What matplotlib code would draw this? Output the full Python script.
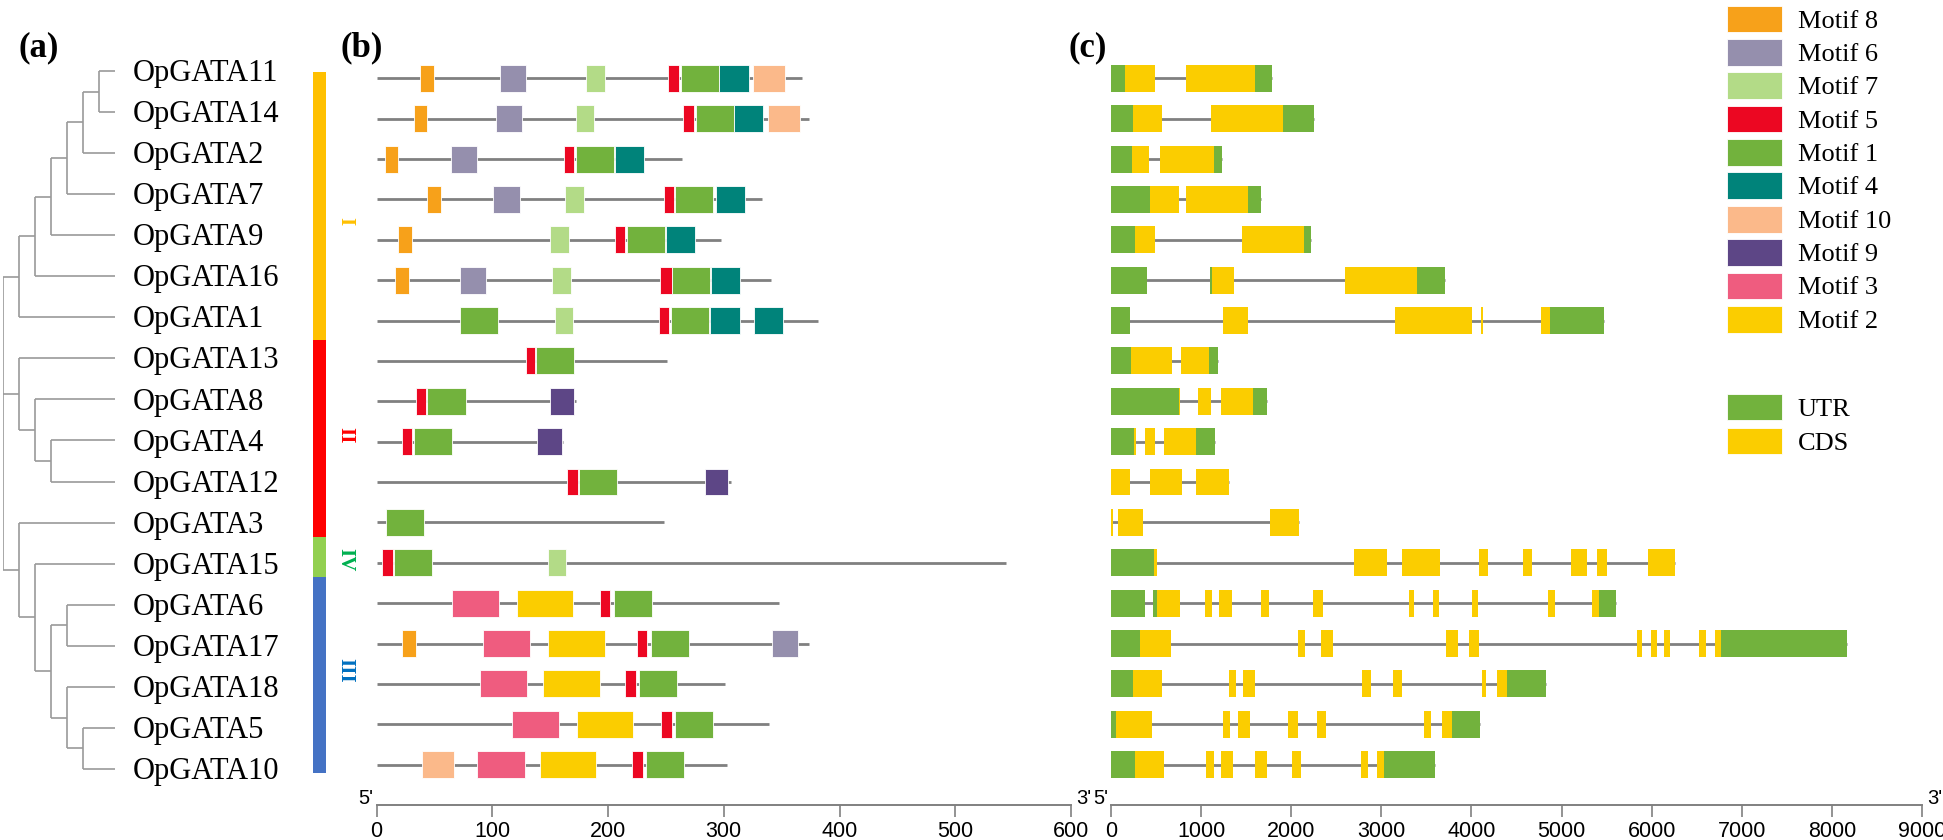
import matplotlib
matplotlib.use("Agg")
import matplotlib.pyplot as plt

plt.rcParams["font.family"] = ["Liberation Serif", "DejaVu Serif"]

W, H = 1943, 840
SANS_NARROW = ["Liberation Sans Narrow", "Liberation Sans", "DejaVu Sans"]

GENES = ["OpGATA11", "OpGATA14", "OpGATA2", "OpGATA7", "OpGATA9", "OpGATA16",
         "OpGATA1", "OpGATA13", "OpGATA8", "OpGATA4", "OpGATA12", "OpGATA3",
         "OpGATA15", "OpGATA6", "OpGATA17", "OpGATA18", "OpGATA5", "OpGATA10"]

# tree: (node level, children); leaves sit at level 7
TREE = (0, [
    (1, [(2, [(3, [(4, [(5, [(6, ["OpGATA11", "OpGATA14"]), "OpGATA2"]), "OpGATA7"]),
                   "OpGATA9"]), "OpGATA16"]), "OpGATA1"]),
    (1, ["OpGATA13", (2, ["OpGATA8", (3, ["OpGATA4", "OpGATA12"])])]),
    (1, ["OpGATA3", (2, ["OpGATA15", (3, [(4, ["OpGATA6", "OpGATA17"]),
                                          (4, ["OpGATA18", (5, ["OpGATA5", "OpGATA10"])])])])]),
])
LEAF_LEVEL = 7

GROUP_NAMES = ["I", "II", "IV", "III"]
GROUP_EDGES = [0.02, 6.55, 11.35, 12.32, 17.1]
GROUP_LABEL_ROWS = [3.65, 8.87, 11.91, 14.59]
GROUP_BAR_COLORS = ["#FFC000", "#FF0000", "#92D050", "#4472C4"]
GROUP_TEXT_COLORS = ["#FFC000", "#FF0000", "#00B050", "#0070C0"]

# protein length (aa) and motif hits (motif, start, end)
PROT_LEN = [368, 374, 264, 333, 298, 341, 381, 251, 172, 161, 306, 248, 544, 348, 374, 301, 339, 303]
MOTIF_HITS = [
    [(8, 38, 50), (6, 107, 129), (7, 181, 197), (5, 252, 261), (1, 263, 296), (4, 296, 322), (10, 325, 353)],
    [(8, 32, 44), (6, 103, 126), (7, 172, 188), (5, 265, 274), (1, 276, 309), (4, 309, 334), (10, 338, 366)],
    [(8, 7, 19), (6, 64, 87), (5, 162, 171), (1, 172, 205), (4, 206, 231)],
    [(8, 44, 56), (6, 101, 124), (7, 163, 179), (5, 248, 257), (1, 258, 291), (4, 293, 318)],
    [(8, 19, 31), (7, 150, 166), (5, 206, 215), (1, 216, 249), (4, 250, 275)],
    [(8, 16, 28), (6, 72, 95), (7, 152, 168), (5, 245, 255), (1, 255, 288), (4, 289, 314)],
    [(1, 72, 105), (7, 154, 170), (5, 244, 253), (1, 254, 287), (4, 288, 314), (4, 326, 351)],
    [(5, 129, 137), (1, 138, 171)],
    [(5, 34, 43), (1, 44, 77), (9, 150, 171)],
    [(5, 22, 31), (1, 32, 65), (9, 139, 160)],
    [(5, 165, 174), (1, 175, 208), (9, 284, 304)],
    [(1, 8, 41)],
    [(5, 5, 14), (1, 15, 48), (7, 148, 164)],
    [(3, 65, 106), (2, 121, 170), (5, 193, 202), (1, 205, 238)],
    [(8, 22, 34), (3, 92, 133), (2, 148, 197), (5, 225, 234), (1, 237, 270), (6, 342, 364)],
    [(3, 89, 130), (2, 144, 193), (5, 215, 224), (1, 227, 260)],
    [(3, 117, 158), (2, 173, 222), (5, 246, 255), (1, 258, 291)],
    [(10, 39, 67), (3, 87, 128), (2, 141, 190), (5, 221, 230), (1, 233, 266)],
]
MOTIF_ORDER = [8, 6, 7, 5, 1, 4, 10, 9, 3, 2]
MOTIF_COLORS = {8: "#F7A11A", 6: "#958FAD", 7: "#B3DB87", 5: "#EC0722", 1: "#72B23D",
                4: "#00837A", 10: "#FBB98A", 9: "#5D4686", 3: "#EF5C7F", 2: "#FBCD00"}

# gene length (bp) and features (U = UTR, C = CDS, start, end)
GENE_LEN = [1782, 2251, 1234, 1668, 2221, 3702, 5466, 1192, 1734, 1156, 1312, 2083, 6261, 5605, 8163, 4822, 4100, 3594]
GENE_PARTS = [
    [("U", 0, 150), ("C", 150, 488), ("C", 831, 1601), ("U", 1601, 1782)],
    [("U", 0, 247), ("C", 247, 566), ("C", 1108, 1908), ("U", 1908, 2251)],
    [("U", 0, 229), ("C", 229, 427), ("C", 548, 1138), ("U", 1138, 1234)],
    [("U", 0, 433), ("C", 433, 753), ("C", 831, 1523), ("U", 1523, 1668)],
    [("U", 0, 271), ("C", 271, 488), ("C", 1451, 2137), ("U", 2137, 2221)],
    [("U", 0, 397), ("U", 1102, 1126), ("C", 1126, 1361), ("C", 2601, 3395), ("U", 3395, 3702)],
    [("U", 0, 211), ("C", 1246, 1517), ("C", 3154, 4009), ("C", 4106, 4124), ("C", 4774, 4870),
     ("U", 4870, 5466)],
    [("U", 0, 223), ("C", 223, 674), ("C", 777, 1084), ("U", 1084, 1192)],
    [("U", 0, 752), ("C", 752, 770), ("C", 969, 1108), ("C", 1222, 1571), ("U", 1571, 1734)],
    [("U", 0, 259), ("C", 259, 277), ("C", 373, 488), ("C", 584, 939), ("U", 939, 1156)],
    [("C", 0, 211), ("C", 433, 783), ("C", 945, 1306)],
    [("C", 0, 18), ("C", 78, 355), ("C", 1764, 2083)],
    [("U", 0, 476), ("C", 476, 512), ("C", 2697, 3064), ("C", 3227, 3648), ("C", 4082, 4184),
     ("C", 4575, 4672), ("C", 5105, 5280), ("C", 5394, 5508), ("C", 5960, 6261)],
    [("U", 0, 379), ("U", 464, 512), ("C", 512, 771), ("C", 1041, 1126), ("C", 1204, 1342),
     ("C", 1662, 1758), ("C", 2245, 2354), ("C", 3305, 3365), ("C", 3576, 3636), ("C", 4003, 4070),
     ("C", 4852, 4930), ("C", 5334, 5418), ("U", 5418, 5605)],
    [("U", 0, 325), ("C", 325, 662), ("C", 2077, 2149), ("C", 2330, 2462), ("C", 3714, 3853),
     ("C", 3973, 4088), ("C", 5833, 5894), ("C", 5990, 6062), ("C", 6140, 6200), ("C", 6520, 6598),
     ("C", 6700, 6766), ("U", 6766, 8163)],
    [("U", 0, 241), ("C", 241, 566), ("C", 1306, 1385), ("C", 1469, 1601), ("C", 2787, 2890),
     ("C", 3124, 3233), ("C", 4118, 4160), ("C", 4286, 4395), ("U", 4395, 4822)],
    [("U", 0, 54), ("C", 54, 458), ("C", 1240, 1318), ("C", 1409, 1541), ("C", 1963, 2071),
     ("C", 2282, 2390), ("C", 3474, 3546), ("C", 3678, 3781), ("U", 3781, 4100)],
    [("U", 0, 271), ("C", 271, 590), ("C", 1054, 1138), ("C", 1222, 1355), ("C", 1601, 1734),
     ("C", 2005, 2107), ("C", 2775, 2848), ("C", 2956, 3028), ("U", 3028, 3594)],
]
PART_COLORS = {"U": "#72B23D", "C": "#FBCD00"}
PART_NAMES = {"U": "UTR", "C": "CDS"}

LINE_GRAY = "#808080"
BOX_H = 0.668


def px_axes(fig, x0, y0, x1, y1):
    return fig.add_axes([x0 / W, 1 - y1 / H, (x1 - x0) / W, (y1 - y0) / H])


def draw_clade(ax, node, rows):
    if isinstance(node, str):
        return LEAF_LEVEL, rows[node]
    level, children = node
    ys = []
    for child in children:
        cx, cy = draw_clade(ax, child, rows)
        ax.plot([level, cx], [cy, cy], color="#9A9A9A", lw=1.2, solid_capstyle="butt")
        ys.append(cy)
    ax.plot([level, level], [min(ys), max(ys)], color="#9A9A9A", lw=1.2, solid_capstyle="butt")
    return level, (min(ys) + max(ys)) / 2


def style_scale_axis(ax, xmax, step, ticks_fs=15.5):
    for side in ["left", "top", "right"]:
        ax.spines[side].set_visible(False)
    ax.spines["bottom"].set_color(LINE_GRAY)
    ax.spines["bottom"].set_linewidth(1.4)
    ax.spines["bottom"].set_bounds(0, xmax)
    ax.set_yticks([])
    ax.set_xticks(range(0, xmax + 1, step))
    ax.tick_params(axis="x", length=8.5, width=1.2, color=LINE_GRAY, pad=3, labelsize=ticks_fs)
    for lab in ax.get_xticklabels():
        lab.set_fontfamily(SANS_NARROW)
    ax.set_xlim(0, xmax)
    ax.set_ylim(18, -1)
    ax.patch.set_visible(False)
    ax.annotate("5'", (0, 18), xytext=(-2, 1), textcoords="offset points", ha="right",
                va="baseline", fontsize=14.5, family=SANS_NARROW, annotation_clip=False)
    ax.annotate("3'", (xmax, 18), xytext=(3.5, 1), textcoords="offset points", ha="left",
                va="baseline", fontsize=14.5, family=SANS_NARROW, annotation_clip=False)


fig = plt.figure(figsize=(W / 100, H / 100), dpi=100)

# (a) tree
rows = {g: i for i, g in enumerate(GENES)}
tree_ylim = (17.88, -0.806)
ax_t = px_axes(fig, 2.7, 37.9, 115, 805)
ax_t.set_xlim(0, LEAF_LEVEL)
ax_t.set_ylim(*tree_ylim)
ax_t.axis("off")
draw_clade(ax_t, TREE, rows)
for g, i in rows.items():
    ax_t.annotate(g, (LEAF_LEVEL, i), xytext=(13, -7.3), textcoords="offset points",
                  ha="left", va="baseline", fontsize=22, annotation_clip=False)

# group bar
ax_g = px_axes(fig, 300, 37.9, 360, 805)
ax_g.set_xlim(0, 60)
ax_g.set_ylim(*tree_ylim)
ax_g.axis("off")
for k, name in enumerate(GROUP_NAMES):
    ax_g.bar(19.5, GROUP_EDGES[k + 1] - GROUP_EDGES[k], width=13, bottom=GROUP_EDGES[k],
             color=GROUP_BAR_COLORS[k], linewidth=0)
    ax_g.text(45, GROUP_LABEL_ROWS[k], name, rotation=-90, ha="center", va="center",
              fontsize=15, fontweight="bold", color=GROUP_TEXT_COLORS[k])

# (b) motifs
ax_m = px_axes(fig, 376.5, 37.9, 1071, 805)
for i, (length, hits) in enumerate(zip(PROT_LEN, MOTIF_HITS)):
    ax_m.hlines(i, 0, length, color=LINE_GRAY, lw=2, zorder=1)
    for motif, s, e in hits:
        ax_m.barh(i, e - s, left=s, height=BOX_H, color=MOTIF_COLORS[motif],
                  edgecolor="white", linewidth=0.6, zorder=2)
style_scale_axis(ax_m, 600, 100)

# (c) gene structure
ax_s = px_axes(fig, 1111, 37.9, 1922, 805)
for i, (length, parts) in enumerate(zip(GENE_LEN, GENE_PARTS)):
    ax_s.hlines(i, 0, length, color=LINE_GRAY, lw=2, zorder=1)
    for kind, s, e in parts:
        ax_s.barh(i, e - s, left=s, height=BOX_H, color=PART_COLORS[kind], linewidth=0, zorder=2)
style_scale_axis(ax_s, 9000, 1000)

# legend
ax_l = px_axes(fig, 1727, 0, 1943, 460)
ax_l.set_xlim(0, 216 / 55)
ax_l.set_ylim(13.22, -0.57)
ax_l.axis("off")
leg_items = [(f"Motif {m}", MOTIF_COLORS[m]) for m in MOTIF_ORDER]
leg_rows = list(range(len(leg_items)))
for kind in ["U", "C"]:
    leg_rows.append(leg_rows[-1] + (2.63 if kind == "U" else 1.02))
    leg_items.append((PART_NAMES[kind], PART_COLORS[kind]))
for y, (label, color) in zip(leg_rows, leg_items):
    ax_l.barh(y, 1, left=0, height=0.8, color=color, edgecolor="white", linewidth=0.6)
    ax_l.annotate(label, (1.29, y), xytext=(0, -6.2), textcoords="offset points",
                  ha="left", va="baseline", fontsize=19)

# panel letters
for label, xpx in [("(a)", 19), ("(b)", 341), ("(c)", 1069)]:
    fig.text(xpx / W, 1 - 48 / H, label, ha="left", va="center", fontsize=25, fontweight="bold")

fig.savefig("out.png", dpi=100)
